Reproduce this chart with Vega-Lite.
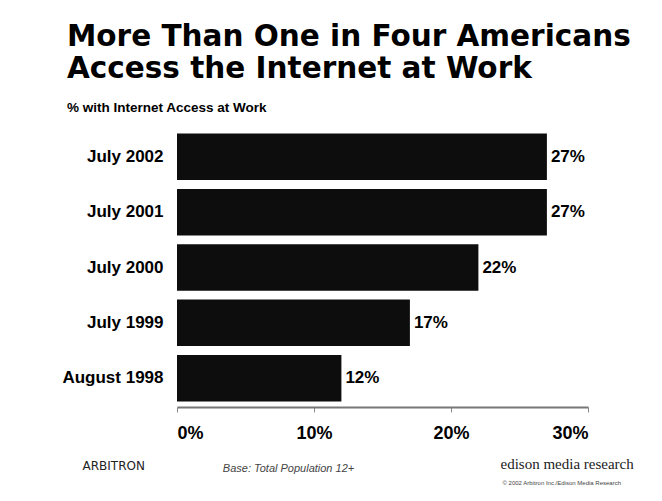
{
  "$schema": "https://vega.github.io/schema/vega-lite/v6.json",
  "width": 411,
  "height": 279,
  "autosize": {"type": "none"},
  "padding": {"left": 177, "top": 128, "right": 74, "bottom": 94},
  "background": "white",
  "title": {
    "text": ["More Than One in Four Americans", "Access the Internet at Work"],
    "subtitle": "% with Internet Access at Work",
    "anchor": "start",
    "frame": "group",
    "dx": -110,
    "font": "DejaVu Sans",
    "fontSize": 29.5,
    "fontWeight": "bold",
    "lineHeight": 32,
    "color": "black",
    "subtitleFont": "Liberation Sans",
    "subtitleFontSize": 13.5,
    "subtitleFontWeight": "bold",
    "subtitleColor": "black",
    "subtitlePadding": 16,
    "offset": 13
  },
  "data": {
    "values": [
      {"period": "July 2002", "pct": 27, "label": "27%"},
      {"period": "July 2001", "pct": 27, "label": "27%"},
      {"period": "July 2000", "pct": 22, "label": "22%"},
      {"period": "July 1999", "pct": 17, "label": "17%"},
      {"period": "August 1998", "pct": 12, "label": "12%"}
    ]
  },
  "layer": [
    {
      "mark": {"type": "bar", "color": "#0d0d0d"},
      "encoding": {
        "y": {
          "field": "period", "type": "nominal", "sort": null,
          "scale": {"paddingInner": 0.16, "paddingOuter": 0.1},
          "axis": {
            "orient": "left",
            "title": "ARBITRON", "titleAngle": 0, "titleX": -95, "titleY": 341,
            "titleAlign": "left", "titleBaseline": "alphabetic",
            "titleFont": "DejaVu Sans", "titleFontSize": 12, "titleFontWeight": "normal", "titleColor": "#222",
            "labelFont": "Liberation Sans", "labelFontSize": 17, "labelFontWeight": "bold", "labelColor": "black",
            "labelPadding": 14, "ticks": false, "domain": false
          }
        },
        "x": {
          "field": "pct", "type": "quantitative",
          "scale": {"domain": [0, 30], "nice": false},
          "axis": {
            "orient": "bottom",
            "values": [0, 10, 20, 30], "labelExpr": "datum.value + '%'",
            "labelFont": "Liberation Sans", "labelFontSize": 18, "labelFontWeight": "bold", "labelColor": "black",
            "labelPadding": 12, "tickSize": 5, "tickColor": "#888", "domainColor": "#777", "domainWidth": 2, "grid": false,
            "title": "Base: Total Population 12+", "titleFont": "Liberation Sans", "titleFontStyle": "italic",
            "titleFontWeight": "normal", "titleFontSize": 11, "titleColor": "#444",
            "titleX": 111, "titleY": 64, "titleAlign": "center", "titleBaseline": "alphabetic"
          }
        }
      }
    },
    {
      "mark": {"type": "text", "align": "left", "baseline": "middle", "dx": 4, "font": "Liberation Sans", "fontSize": 17, "fontWeight": "bold", "color": "black"},
      "encoding": {
        "y": {
          "field": "period", "type": "nominal", "sort": null,
          "axis": {
            "orient": "left",
            "labels": false, "ticks": false, "domain": false, "grid": false,
            "title": "© 2002 Arbitron Inc./Edison Media Research", "titleAngle": 0, "titleX": 325, "titleY": 356,
            "titleAlign": "left", "titleBaseline": "alphabetic",
            "titleFont": "Liberation Sans", "titleFontSize": 6, "titleFontWeight": "normal", "titleColor": "#444"
          }
        },
        "x": {
          "field": "pct", "type": "quantitative",
          "axis": {
            "orient": "bottom",
            "labels": false, "ticks": false, "domain": false, "grid": false,
            "title": "edison media research", "titleFont": "Liberation Serif", "titleFontSize": 15,
            "titleFontWeight": "normal", "titleColor": "#222",
            "titleX": 323, "titleY": 61, "titleAlign": "left", "titleBaseline": "alphabetic"
          }
        },
        "text": {"field": "label"}
      }
    }
  ],
  "resolve": {"axis": {"x": "independent", "y": "independent"}},
  "config": {"view": {"stroke": null}}
}
